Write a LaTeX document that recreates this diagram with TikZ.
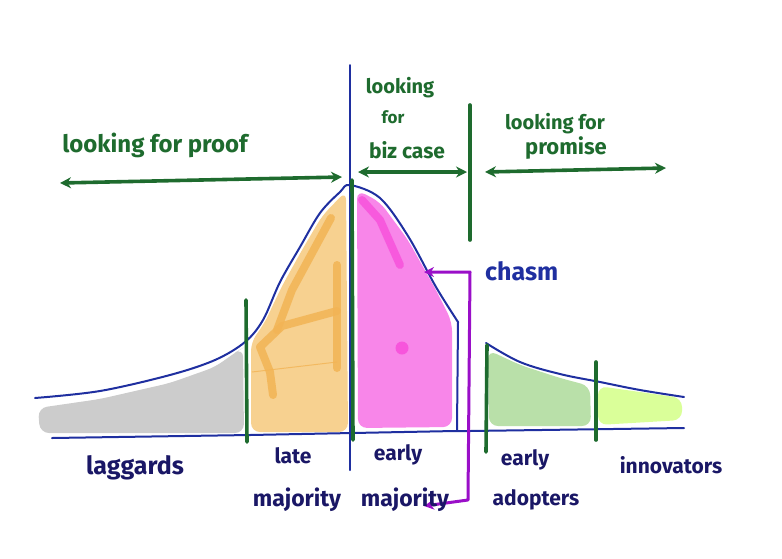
\documentclass[tikz,border=0pt]{standalone}
\usepackage{fontspec}
\setmainfont{Fira Sans}
\usetikzlibrary{arrows.meta}
\definecolor{cblue}{HTML}{1F2FA0}
\definecolor{cgreen}{HTML}{1E6B2E}
\definecolor{cnavy}{HTML}{1A1766}
\definecolor{cpurple}{HTML}{9A0FC8}
\definecolor{fgray}{HTML}{CCCCCC}
\definecolor{forange}{HTML}{F7D190}
\definecolor{dorange}{HTML}{F2B455}
\definecolor{fpink}{HTML}{F886E9}
\definecolor{dpink}{HTML}{F755DC}
\definecolor{fgreen}{HTML}{B9E0A9}
\definecolor{flime}{HTML}{DAFF99}
\tikzset{
  curve/.style={draw=cblue, line width=2pt, line cap=round, line join=round},
  divider/.style={draw=cgreen, line width=3.6pt, line cap=round},
  span/.style={draw=cgreen, line width=3.6pt, {Stealth[length=11pt,width=11pt]}-{Stealth[length=11pt,width=11pt]}},
  toptext/.style={text=cgreen, font=\bfseries\fontsize{20}{22}\selectfont, inner sep=0pt},
  lab/.style={text=cnavy, font=\bfseries\fontsize{21}{23}\selectfont, inner sep=0pt},
  bracket/.style={draw=cpurple, line width=3pt, line join=round, {Stealth[length=10pt,width=10pt]}-{Stealth[length=10pt,width=10pt]}},
  blob/.style={rounded corners=9pt},
  ostroke/.style={dorange, line width=8pt, line cap=round, line join=round, opacity=0.85}
}
\begin{document}
\begin{tikzpicture}[x=1pt,y=-1pt]
\useasboundingbox (0,0) rectangle (782,558);
% fills
\fill[fgray, blob] (38,408) -- (100,399) -- (170,383) -- (215,367) -- (236,352) -- (243,348) -- (244,433) -- (40,433) -- cycle;
\fill[forange, blob] (251,342) -- (264,324) -- (282,286) -- (302,250) -- (322,216) -- (346,191) -- (348,432) -- (251,432) -- cycle;
\draw[ostroke] (273,395) -- (270,372) -- (260,347) -- (282,326) -- (337,311);
\draw[ostroke] (337,368) -- (337,265);
\draw[ostroke] (277,330) -- (292,290) -- (331,218);
\draw[dorange, line width=1pt, opacity=0.8] (252,372) -- (337,362);
\fill[fpink, blob] (357,190) -- (380,202) -- (408,240) -- (436,290) -- (452,322) -- (452,427) -- (358,428) -- cycle;
\draw[dpink, line width=8pt, line cap=round, opacity=0.9] (362,200) -- (380,220) -- (400,265);
\fill[dpink] (402,348) circle (6.5pt);
\fill[fgreen, blob] (488,350) -- (520,365) -- (560,378) -- (590,386) -- (591,426) -- (489,426) -- cycle;
\fill[flime, blob] (598,386) -- (640,392) -- (682,398) -- (682,420) -- (598,425) -- cycle;
% bell curve
\draw[curve] plot[smooth, tension=0.55] coordinates {(35,398) (100,391) (170,375) (215,360) (245,342) (263,320) (280,282) (300,247) (320,213) (340,192) (350,185) (380,198) (408,236) (436,287) (458,322)};
\draw[curve] (458,322) -- (457,430);
\draw[curve] plot[smooth, tension=0.6] coordinates {(486,343) (520,362) (560,374) (600,382) (640,390) (684,397)};
\draw[curve] (52,438) -- (250,435) -- (455,431) -- (470,431) -- (684,428);
% center blue line
\coordinate (ctop) at (350,65);
\coordinate (cbot) at (350,470);
\draw[curve] (ctop) -- (cbot);
% green dividers
\coordinate (d1t) at (246,300); \coordinate (d1b) at (247,442);
\coordinate (d2t) at (352,180); \coordinate (d2b) at (353,440);
\coordinate (d3t) at (487,345); \coordinate (d3b) at (486,452);
\coordinate (d4t) at (596,362); \coordinate (d4b) at (596,440);
\coordinate (d5t) at (470,105); \coordinate (d5b) at (470,240);
\foreach \a/\b in {d1t/d1b,d2t/d2b,d3t/d3b,d4t/d4b,d5t/d5b} \draw[divider] (\a) -- (\b);
% top arrows
\coordinate (pl) at (60,183); \coordinate (pr) at (342,177);
\coordinate (bl) at (358,172); \coordinate (br) at (467,172);
\coordinate (ml) at (485,172); \coordinate (mr) at (666,168);
\draw[span] (pl) -- (pr);
\draw[span] (bl) -- (br);
\draw[span] (ml) -- (mr);
% top texts
\node[toptext, font=\bfseries\fontsize{24}{26}\selectfont] (tproof) at (155,145) {looking for proof};
\node[toptext] (tbiz1) at (400,88) {looking};
\node[toptext, font=\bfseries\fontsize{17}{19}\selectfont] (tbiz2) at (393,117) {for};
\node[toptext, font=\bfseries\fontsize{21}{24}\selectfont] (tbiz3) at (407,150) {biz case};
\node[toptext] (tprom1) at (555,124) {looking for};
\node[toptext, font=\bfseries\fontsize{22}{24}\selectfont] (tprom2) at (566,148) {promise};
% chasm
\node[text=cblue, font=\bfseries\fontsize{25}{27}\selectfont, inner sep=0pt, anchor=west] (chasm) at (485,271) {chasm};
\coordinate (ch1) at (424,272); \coordinate (ch2) at (470,272);
\coordinate (ch3) at (468,500); \coordinate (ch4) at (424,506);
\draw[bracket] (ch1) -- (ch2) -- (ch3) -- (ch4);
% bottom labels
\node[lab, font=\bfseries\fontsize{25}{27}\selectfont] (lag) at (135,468) {laggards};
\node[lab] (late1) at (293,456) {late};
\node[lab, font=\bfseries\fontsize{23}{25}\selectfont] (late2) at (297,500) {majority};
\node[lab] (early1) at (398,455) {early};
\node[lab, font=\bfseries\fontsize{23}{25}\selectfont] (early2) at (405,500) {majority};
\node[lab] (ad1) at (525,460) {early};
\node[lab] (ad2) at (536,500) {adopters};
\node[lab] (inn) at (671,465) {innovators};
\end{tikzpicture}
\end{document}
